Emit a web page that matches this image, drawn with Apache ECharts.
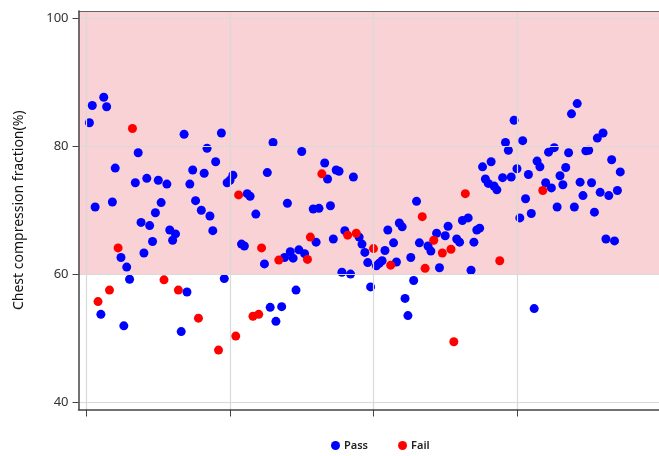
<!DOCTYPE html>
<html>
<head>
<meta charset="utf-8">
<script src="https://cdn.jsdelivr.net/npm/echarts@6/dist/echarts.min.js"></script>
<style>
  html, body { margin: 0; padding: 0; background: #fff; }
  #chart { width: 659px; height: 456px; }
</style>
</head>
<body>
<div id="chart"></div>
<script>
// case index -> chest compression fraction (%)
var passIdx = [1, 2, 3, 5, 6, 7, 9, 10, 12, 13, 14, 15, 17, 18, 19, 20, 21, 22, 23, 24, 25, 26, 28, 29, 30, 31, 33, 34, 35, 36,
    37, 38, 40, 41, 42, 43, 44, 45, 47, 48, 49, 50, 51, 54, 55, 56, 57, 59, 62, 63, 64, 65, 66, 68, 69, 70, 71, 72, 73, 74,
    75, 76, 79, 80, 81, 83, 84, 85, 86, 87, 88, 89, 90, 92, 93, 95, 96, 97, 98, 99, 101, 102, 103, 104, 105, 107, 108, 109, 110, 111,
    112, 113, 114, 115, 116, 119, 120, 122, 123, 125, 126, 129, 130, 131, 133, 134, 135, 136, 137, 138, 139, 140, 141, 142, 143, 145, 146, 147, 148, 149,
    150, 151, 152, 153, 154, 155, 156, 157, 158, 160, 161, 162, 163, 164, 165, 166, 167, 168, 169, 170, 171, 172, 173, 174, 175, 176, 177, 178, 179, 180,
    181, 182, 183, 184, 185, 186];
var passVal = [83.7, 86.4, 70.5, 53.7, 87.7, 86.2, 71.3, 76.6, 62.6, 51.9, 61.1, 59.2, 74.3, 79.0, 68.1, 63.3, 75.0, 67.6, 65.1, 69.6, 74.7, 71.2, 74.1, 66.9, 65.3, 66.3, 51.0, 81.9, 57.2, 74.1,
    76.3, 71.5, 70.0, 75.8, 79.7, 69.1, 66.8, 77.6, 82.1, 59.3, 74.3, 74.7, 75.5, 64.7, 64.4, 72.6, 72.2, 69.4, 61.6, 75.9, 54.8, 80.6, 52.6, 54.9, 62.6, 71.1, 63.5, 62.5, 57.5, 63.8,
    79.2, 63.2, 70.2, 65.0, 70.3, 77.4, 74.9, 70.7, 65.5, 76.3, 76.1, 60.3, 66.8, 60.0, 75.2, 65.8, 64.7, 63.4, 61.8, 58.0, 61.3, 61.7, 62.1, 63.7, 66.9, 64.9, 61.9, 68.0, 67.4, 56.2,
    53.5, 62.6, 59.0, 71.4, 64.9, 64.4, 63.6, 66.4, 61.0, 66.0, 67.5, 65.5, 65.0, 68.4, 68.8, 60.6, 65.0, 66.9, 67.2, 76.8, 74.9, 74.2, 77.6, 73.8, 73.2, 75.1, 80.6, 79.4, 75.2, 84.1,
    76.5, 68.8, 80.9, 71.8, 75.6, 69.5, 54.6, 77.7, 76.8, 74.3, 79.1, 73.5, 79.8, 70.5, 75.4, 74.0, 76.7, 79.0, 85.1, 70.5, 86.7, 74.4, 72.3, 79.3, 79.4, 74.3, 69.7, 81.3, 72.8, 82.1,
    65.5, 72.3, 77.9, 65.2, 73.1, 76.0];

var failIdx = [4, 8, 11, 16, 27, 32, 39, 46, 52, 53, 58, 60, 61, 67, 77, 78, 82, 91, 94, 100, 106, 117, 118, 121, 124, 127, 128, 132, 144, 159];
var failVal = [55.7, 57.5, 64.1, 82.8, 59.1, 57.5, 53.1, 48.1, 50.3, 72.4, 53.4, 53.7, 64.1, 62.2, 62.3, 65.8, 75.7, 66.1, 66.4, 64.0, 61.4, 69.0, 60.9, 65.3, 63.3, 63.9, 49.4, 72.6, 62.1, 73.1];

var yTicks = [40, 60, 80, 100];
var xTicks = [0, 50, 100, 150];
var passLine = 60;
var yMin = 38.8, yMax = 101.2;
var xMin = -2.8, xMax = 199.5;

function pairs(xs, ys) {
    var out = [];
    for (var i = 0; i < xs.length; i++) {
        out.push([xs[i], ys[i]]);
    }
    return out;
}

var gridLines = [];
yTicks.forEach(function (v) { gridLines.push({ yAxis: v }); });
xTicks.forEach(function (v) { gridLines.push({ xAxis: v }); });
// top frame
gridLines.push({ yAxis: yMax - 0.08, lineStyle: { color: '#666', width: 1.2 } });

var myChart = echarts.init(document.getElementById('chart'));
var font = 'Noto Sans';

var option = {
    animation: false,
    textStyle: { fontFamily: font },
    grid: {
        left: 78.5, right: -1, top: 11, bottom: 46.5
    },
    legend: {
        data: ['Pass', 'Fail'],
        left: 326, bottom: 0,
        icon: 'circle', itemWidth: 9, itemHeight: 9, itemGap: 30,
        textStyle: { fontFamily: font, fontSize: 11, fontWeight: 600, color: '#222', padding: [0, 0, 0, -1] }
    },
    xAxis: {
        type: 'value',
        min: xMin, max: xMax,
        z: 10,
        axisLine: { show: true, onZero: false, lineStyle: { color: '#444', width: 1.5 } },
        axisTick: { show: true, length: 7, customValues: xTicks, lineStyle: { color: '#444' } },
        axisLabel: { show: false },
        splitLine: { show: false }
    },
    yAxis: {
        type: 'value',
        min: yMin, max: yMax,
        z: 10,
        name: 'Chest compression fraction(%)',
        nameLocation: 'middle', nameGap: 52,
        nameTextStyle: { fontFamily: font, fontSize: 14, color: '#111' },
        axisLine: { show: true, onZero: false, lineStyle: { color: '#444', width: 1.5 } },
        axisTick: { show: true, length: 6, customValues: yTicks, lineStyle: { color: '#444' } },
        axisLabel: { customValues: yTicks, fontSize: 13, color: '#333', margin: 10, fontFamily: font },
        splitLine: { show: false }
    },
    series: [
        {
            name: 'band', type: 'line', data: [], z: 0, silent: true,
            markArea: {
                silent: true,
                itemStyle: { color: '#f9d2d5' },
                data: [[{ yAxis: passLine }, { yAxis: yMax }]]
            }
        },
        {
            name: 'grid', type: 'line', data: [], z: 1, silent: true,
            markLine: {
                silent: true, symbol: 'none',
                label: { show: false },
                lineStyle: { color: '#d9d9d9', width: 1.2, type: 'solid', opacity: 1 },
                data: gridLines
            }
        },
        {
            name: 'Pass', type: 'scatter', z: 3,
            symbolSize: 9,
            itemStyle: { color: '#0000ff', opacity: 1 },
            data: pairs(passIdx, passVal)
        },
        {
            name: 'Fail', type: 'scatter', z: 4,
            symbolSize: 9,
            itemStyle: { color: '#ff0000', opacity: 1 },
            data: pairs(failIdx, failVal)
        }
    ]
};

myChart.setOption(option);
</script>
</body>
</html>
